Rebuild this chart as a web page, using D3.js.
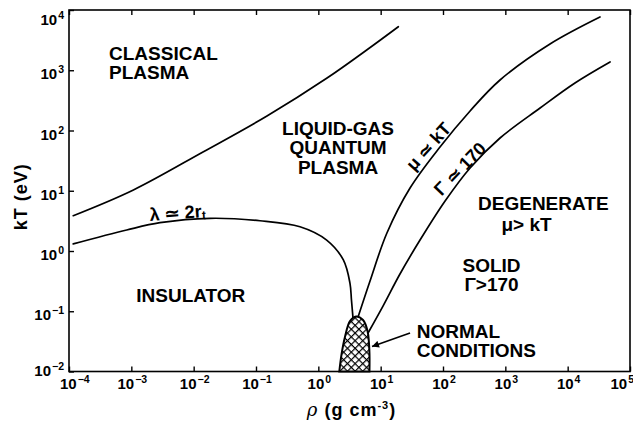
<!DOCTYPE html>
<html><head><meta charset="utf-8">
<script src="https://cdn.jsdelivr.net/npm/d3@7"></script>
<style>
html,body{margin:0;padding:0;background:#fff;}
svg{display:block;font-family:"Liberation Sans",Arial,Helvetica,sans-serif;font-weight:bold;}
</style></head><body>
<svg id="chart" width="633" height="423"></svg>
<script>
// Decade exponents on the two logarithmic axes
const densityExponents = [-4, -3, -2, -1, 0, 1, 2, 3, 4, 5];
const temperatureExponents = [-2, -1, 0, 1, 2, 3, 4];

// Phase boundaries, each point is [density (g cm^-3), kT (eV)]
const classicalBoundary = [
  [1.17e-4, 3.85], [1.08e-3, 10.3], [1.41e-2, 44.0], [0.150, 174],
  [1.38, 743], [5.97, 2170], [19.2, 5280]
];
const lambdaBoundary = [
  [1.17e-4, 1.31], [8.43e-4, 2.23], [2.88e-3, 2.95], [1.83e-2, 3.49],
  [0.116, 3.18], [0.508, 2.53], [1.36, 1.52], [2.52, 0.71],
  [3.22, 0.29], [3.40, 0.154], [3.60, 0.077]
];
const fermiBoundary = [
  [4.34, 0.0803], [6.75, 0.318], [12.6, 1.99], [29.6, 11.1], [89.5, 53.2],
  [272, 211], [822, 689], [5210, 2730], [33000, 7650]
];
const gammaBoundary = [
  [6.27, 0.0436], [10.9, 0.122], [20.4, 0.415], [42.8, 1.52], [108, 6.76],
  [272, 23.9], [822, 75.1], [3610, 236], [13100, 614], [47900, 1370]
];
// Outline of the normal-conditions patch, left foot → top → right foot
const normalConditions = [
  [2.17, 0.01], [2.37, 0.0200], [2.68, 0.0378], [3.22, 0.0689], [4.02, 0.0818],
  [5.21, 0.0716], [6.15, 0.0470], [6.58, 0.0228], [6.61, 0.01]
];
// Arrow pointing at the patch: [tail, head]
const normalArrow = [[29.6, 0.0436], [7.26, 0.026]];

// Region names: anchor point in data units plus text lines
const regionLabels = [
  { at: [4.39e-4, 1480], anchor: "start", lines: ["CLASSICAL", "PLASMA"] },
  { at: [2.07, 84.2], anchor: "middle", lines: ["LIQUID-GAS", "QUANTUM", "PLASMA"] },
  { at: [9.0e-3, 0.145], anchor: "middle", lines: ["INSULATOR"] },
  { at: [4070, 4.79], anchor: "middle", lines: ["DEGENERATE"] },
  { at: [2190, 2.15], anchor: "middle", lines: ["μ> kT"] },
  { at: [600, 0.453], anchor: "middle", lines: ["SOLID", "Γ>170"] },
  { at: [37.9, 0.036], anchor: "start", lines: ["NORMAL", "CONDITIONS"] }
];
// Labels written along curves: centre point and rotation angle
const curveLabels = [
  { at: [58.6, 54.2], angle: -48, text: "μ ≃ kT" },
  { at: [188, 23.0], angle: -46, text: "Γ ≃ 170" }
];

const W = 633, H = 423;
const margin = { left: 69, right: 3, top: 10, bottom: 51.5 };
const x = d3.scaleLog().domain([1e-4, 1e5]).range([margin.left, W - margin.right]);
const y = d3.scaleLog().domain([1e-2, 1e4]).range([H - margin.bottom, margin.top]);

const svg = d3.select("#chart");
const defs = svg.append("defs");

// Cross-hatch fill
const hs = 5.4;
const pat = defs.append("pattern")
  .attr("id", "crosshatch").attr("patternUnits", "userSpaceOnUse")
  .attr("width", hs).attr("height", hs)
  .attr("patternTransform", "rotate(45)");
pat.append("rect").attr("width", hs).attr("height", hs).attr("fill", "#fff");
pat.append("line").attr("x1", 0).attr("y1", 0).attr("x2", hs).attr("y2", 0)
  .attr("stroke", "#000").attr("stroke-width", 2.4);
pat.append("line").attr("x1", 0).attr("y1", 0).attr("x2", 0).attr("y2", hs)
  .attr("stroke", "#000").attr("stroke-width", 2.4);

defs.append("marker").attr("id", "arrowhead")
  .attr("viewBox", "0 0 10 10").attr("refX", 10).attr("refY", 5)
  .attr("markerWidth", 9).attr("markerHeight", 7)
  .attr("markerUnits", "userSpaceOnUse").attr("orient", "auto")
  .append("path").attr("d", "M0,0 L10,5 L0,10 Z").attr("fill", "#000");

const x0 = margin.left, x1 = W - margin.right;
const y0 = H - margin.bottom, y1 = margin.top;

// Inward ticks on left, bottom and top
const tickLen = 5;
svg.append("g").attr("transform", `translate(0,${y0})`)
  .call(d3.axisBottom(x).tickValues(densityExponents.map(e => 10 ** e))
    .tickSize(-tickLen).tickFormat(""))
  .call(g => g.select(".domain").remove());
svg.append("g").attr("transform", `translate(0,${y1})`)
  .call(d3.axisTop(x).tickValues(densityExponents.map(e => 10 ** e))
    .tickSize(-tickLen).tickFormat(""))
  .call(g => g.select(".domain").remove());
svg.append("g").attr("transform", `translate(${x0},0)`)
  .call(d3.axisLeft(y).tickValues(temperatureExponents.map(e => 10 ** e))
    .tickSize(-tickLen).tickFormat(""))
  .call(g => g.select(".domain").remove());
svg.selectAll(".tick line").attr("stroke", "#000").attr("stroke-width", 1.4);

// Frame
svg.append("rect").attr("x", x0).attr("y", y1)
  .attr("width", x1 - x0).attr("height", y0 - y1)
  .attr("fill", "none").attr("stroke", "#000").attr("stroke-width", 1.6);

// Power-of-ten tick labels
const minus = e => (e < 0 ? "\u2212" + (-e) : String(e));
const xLab = svg.append("g").attr("font-size", 15);
densityExponents.forEach((e, i) => {
  const last = i === densityExponents.length - 1;
  const t = xLab.append("text")
    .attr("x", i === 0 ? 60 : last ? 634 : x(10 ** e) + 1)
    .attr("y", 389)
    .attr("text-anchor", i === 0 ? "start" : last ? "end" : "middle");
  t.append("tspan").text("10");
  t.append("tspan").attr("dy", -6).attr("dx", 1).attr("font-size", 10.5).text(minus(e));
});
const yLab = svg.append("g").attr("font-size", 15);
temperatureExponents.forEach((e, i) => {
  let yy = y(10 ** e) + 9;
  if (i === 0) yy -= 5;
  if (i === temperatureExponents.length - 1) yy += 6;
  const t = yLab.append("text").attr("x", 64).attr("y", yy).attr("text-anchor", "end");
  t.append("tspan").text("10");
  t.append("tspan").attr("dy", -6).attr("dx", 1).attr("font-size", 10.5).text(minus(e));
});

// Axis titles
svg.append("text").attr("font-size", 18)
  .attr("transform", `translate(27,${(y0 + y1) / 2 + 6}) rotate(-90)`)
  .attr("text-anchor", "middle").attr("letter-spacing", 1).text("kT (eV)");
const xt = svg.append("text").attr("font-size", 18).attr("x", (x0 + x1) / 2 + 2).attr("y", 416)
  .attr("text-anchor", "middle").attr("letter-spacing", 1);
xt.append("tspan").attr("font-style", "italic").attr("font-weight", "normal")
  .attr("font-family", "DejaVu Serif").text("ρ");
xt.append("tspan").text(" (g cm");
xt.append("tspan").attr("font-size", 11).attr("dy", -7).text("-3");
xt.append("tspan").attr("dy", 7).text(")");

// Curves
const smooth = d3.line().x(d => x(d[0])).y(d => y(d[1])).curve(d3.curveCatmullRom.alpha(0.5));
const curves = svg.append("g").attr("fill", "none").attr("stroke", "#000")
  .attr("stroke-width", 1.7).attr("stroke-linecap", "round").attr("stroke-linejoin", "round");
[classicalBoundary, lambdaBoundary, fermiBoundary, gammaBoundary].forEach(c =>
  curves.append("path").attr("d", smooth(c)));

// Normal conditions patch
svg.append("path").attr("d", smooth(normalConditions) + "Z")
  .attr("fill", "url(#crosshatch)").attr("stroke", "#000").attr("stroke-width", 2);
svg.append("line")
  .attr("x1", x(normalArrow[0][0])).attr("y1", y(normalArrow[0][1]))
  .attr("x2", x(normalArrow[1][0])).attr("y2", y(normalArrow[1][1]))
  .attr("stroke", "#000").attr("stroke-width", 1.6).attr("marker-end", "url(#arrowhead)");

// Region names
const lab = svg.append("g").attr("font-size", 19).attr("fill", "#000");
regionLabels.forEach(r => {
  const t = lab.append("text").attr("x", x(r.at[0])).attr("y", y(r.at[1]))
    .attr("text-anchor", r.anchor);
  r.lines.forEach((s, i) => t.append("tspan")
    .attr("x", x(r.at[0])).attr("dy", i === 0 ? 0 : 19.5).text(s));
});

// λ ≃ 2r_t along the lower boundary
const lamPos = [2.0e-3, 3.15];
const lt = svg.append("text").attr("font-size", 18)
  .attr("transform", `translate(${x(lamPos[0])},${y(lamPos[1])}) rotate(-4)`);
lt.append("tspan").text("λ ≃ 2r");
lt.append("tspan").attr("font-size", 12).attr("dy", 2).text("t");

// Rotated curve labels
curveLabels.forEach(c => {
  svg.append("text").attr("font-size", 18).attr("text-anchor", "middle")
    .attr("transform", `translate(${x(c.at[0])},${y(c.at[1])}) rotate(${c.angle})`)
    .attr("dy", 6).text(c.text);
});
</script>
</body></html>
